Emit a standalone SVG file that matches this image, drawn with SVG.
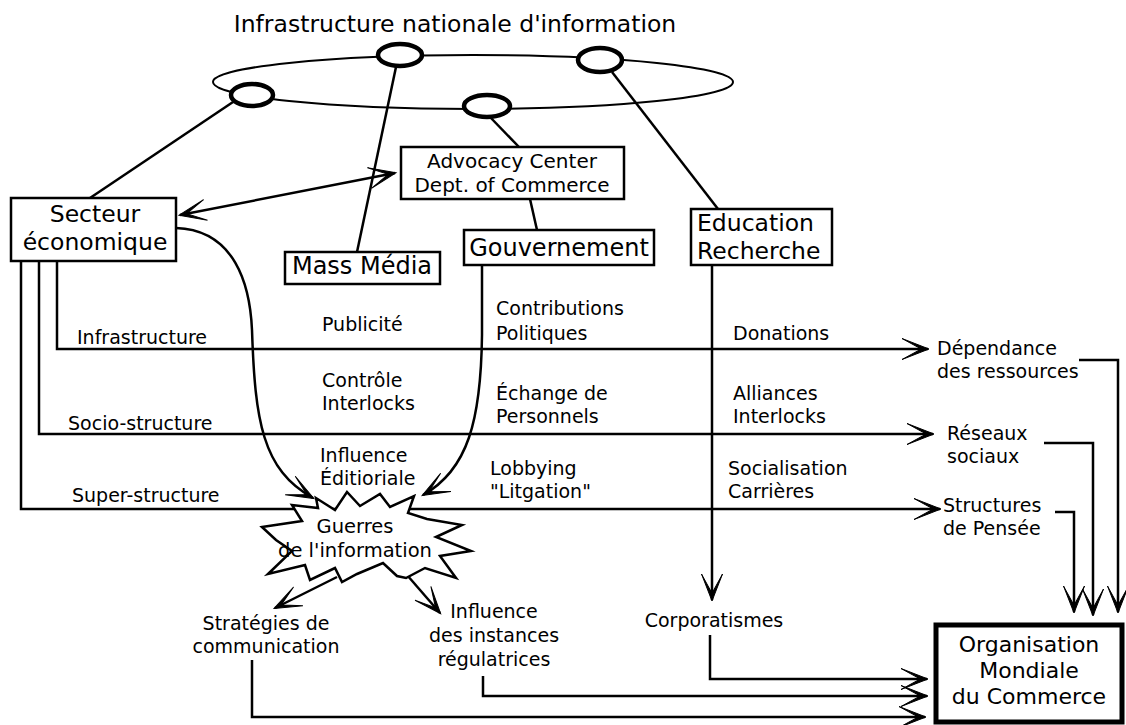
<svg xmlns="http://www.w3.org/2000/svg" width="1126" height="725" viewBox="0 0 1126 725">
<style>
text{font-family:"DejaVu Sans","Liberation Sans",sans-serif;fill:#000}
.t{font-size:23.5px}
.b{font-size:24px}
.l{font-size:19px}
.m{text-anchor:middle}
.box{fill:#fff;stroke:#000;stroke-width:2.5}
.c{fill:none;stroke:#000;stroke-width:2.5}
.ring{fill:#fff;stroke:#000;stroke-width:4.5}
</style>
<defs>
<marker id="a" markerUnits="userSpaceOnUse" viewBox="-30 -15 34 30" markerWidth="34" markerHeight="30" refX="0" refY="0" orient="auto-start-reverse">
<path d="M1,0 L-26,-10.5 L-9,-1.2 L-9,1.2 L-26,10.5 Z" fill="#000" stroke="#000" stroke-width="1" stroke-linejoin="miter"/>
</marker>
</defs>
<rect width="1126" height="725" fill="#fff"/>
<text class="t m" x="455" y="32">Infrastructure nationale d'information</text>

<g id="network">
<ellipse cx="473" cy="82" rx="260" ry="27" fill="none" stroke="#000" stroke-width="2"/>
<ellipse class="ring" cx="252" cy="95" rx="21" ry="11"/>
<ellipse class="ring" cx="400" cy="55" rx="22" ry="11"/>
<ellipse class="ring" cx="600" cy="60" rx="22" ry="12"/>
<ellipse class="ring" cx="487" cy="106" rx="23" ry="11"/>
</g>

<g id="connectors" class="c">
<path d="M233,102 L90,198"/>
<path d="M396,67 L357,252"/>
<path d="M490,117 L519,147"/>
<path d="M530,199 L537,230"/>
<path d="M612,72 L718,209"/>
<path d="M180,215 L395,173" marker-start="url(#a)" marker-end="url(#a)"/>
<path d="M176,228 C235,230 250,285 252,330 C255,420 262,470 313,498" marker-end="url(#a)"/>
<path d="M482,265 L482,335 C481,420 468,470 423,495" marker-end="url(#a)"/>
<path d="M57,261 V349 H928" marker-end="url(#a)"/>
<path d="M39,261 V434 H933" marker-end="url(#a)"/>
<path d="M21,261 V509 H940" marker-end="url(#a)"/>
<path d="M712,265 V600" marker-end="url(#a)"/>
<path d="M1079,360 H1118 V612" marker-end="url(#a)"/>
<path d="M1044,443 H1093 V615" marker-end="url(#a)"/>
<path d="M1055,512 H1074 V612" marker-end="url(#a)"/>
<path d="M710,635 V679 H927" marker-end="url(#a)"/>
<path d="M483,676 V696 H927" marker-end="url(#a)"/>
<path d="M252,660 V717 H925" marker-end="url(#a)"/>
<path d="M337,577 L275,608" marker-end="url(#a)"/>
<path d="M407,575 L440,613" marker-end="url(#a)"/>
</g>

<g id="secteur">
<rect class="box" x="11" y="198" width="165" height="63"/>
<text class="t m" x="95" y="222">Secteur</text>
<text class="t m" x="95" y="250">économique</text>
</g>
<g id="advocacy">
<rect class="box" x="401" y="147" width="223" height="52"/>
<text class="m" style="font-size:20px" x="512" y="168">Advocacy Center</text>
<text class="m" style="font-size:20px" x="512" y="192">Dept. of Commerce</text>
</g>
<g id="massmedia">
<rect class="box" x="285" y="252" width="155" height="32"/>
<text class="b m" x="362" y="274">Mass Média</text>
</g>
<g id="gouvernement">
<rect class="box" x="464" y="230" width="190" height="35"/>
<text class="b m" x="559" y="256">Gouvernement</text>
</g>
<g id="education">
<rect class="box" x="691" y="209" width="141" height="56"/>
<text class="b" x="697" y="231" style="font-size:23.5px">Education</text>
<text class="b" x="697" y="259" style="font-size:23.5px">Recherche</text>
</g>
<g id="omc">
<rect x="936" y="625" width="186" height="97" fill="#fff" stroke="#000" stroke-width="5"/>
<text class="m" style="font-size:22px" x="1029" y="652">Organisation</text>
<text class="m" style="font-size:22px" x="1029" y="678">Mondiale</text>
<text class="m" style="font-size:22px" x="1029" y="704">du Commerce</text>
</g>
<g id="guerres">
<polygon fill="#fff" stroke="#000" stroke-width="2.5" points="262,527 302,521 292,505 318,508 316,498 335,510 347,492 360,506 380,494 390,507 414,496 408,513 427,519 462,525 436,537 471,551 440,556 456,578 425,568 406,578 397,576 383,563 357,574 342,582 335,568 310,580 305,565 268,574 292,551 276,540"/>
<text class="m" style="font-size:19.5px" x="355" y="533">Guerres</text>
<text class="m" style="font-size:19.5px" x="355" y="557">de l'information</text>
</g>

<g id="labels" class="l">
<text x="77" y="344">Infrastructure</text>
<text x="68" y="430">Socio-structure</text>
<text x="72" y="502">Super-structure</text>
<text x="322" y="331">Publicité</text>
<text x="322" y="387">Contrôle</text>
<text x="322" y="410">Interlocks</text>
<text x="320" y="462">Influence</text>
<text x="320" y="485">Éditioriale</text>
<text x="496" y="315">Contributions</text>
<text x="496" y="340">Politiques</text>
<text x="496" y="400">Échange de</text>
<text x="496" y="423">Personnels</text>
<text x="490" y="475">Lobbying</text>
<text x="490" y="498">"Litgation"</text>
<text x="733" y="340">Donations</text>
<text x="733" y="400">Alliances</text>
<text x="733" y="423">Interlocks</text>
<text x="728" y="475">Socialisation</text>
<text x="728" y="498">Carrières</text>
</g>
<g id="dependance" class="l"><text x="937" y="355">Dépendance</text><text x="937" y="378">des ressources</text></g>
<g id="reseaux" class="l"><text x="947" y="440">Réseaux</text><text x="947" y="463">sociaux</text></g>
<g id="structures" class="l"><text x="943" y="512">Structures</text><text x="943" y="535">de Pensée</text></g>
<g id="corporatismes" class="l"><text class="m" x="714" y="627">Corporatismes</text></g>
<g id="strategies" class="l"><text class="m" x="266" y="630">Stratégies de</text><text class="m" x="266" y="653">communication</text></g>
<g id="influence" class="l"><text class="m" x="494" y="618">Influence</text><text class="m" x="494" y="642">des instances</text><text class="m" x="494" y="666">régulatrices</text></g>
</svg>
